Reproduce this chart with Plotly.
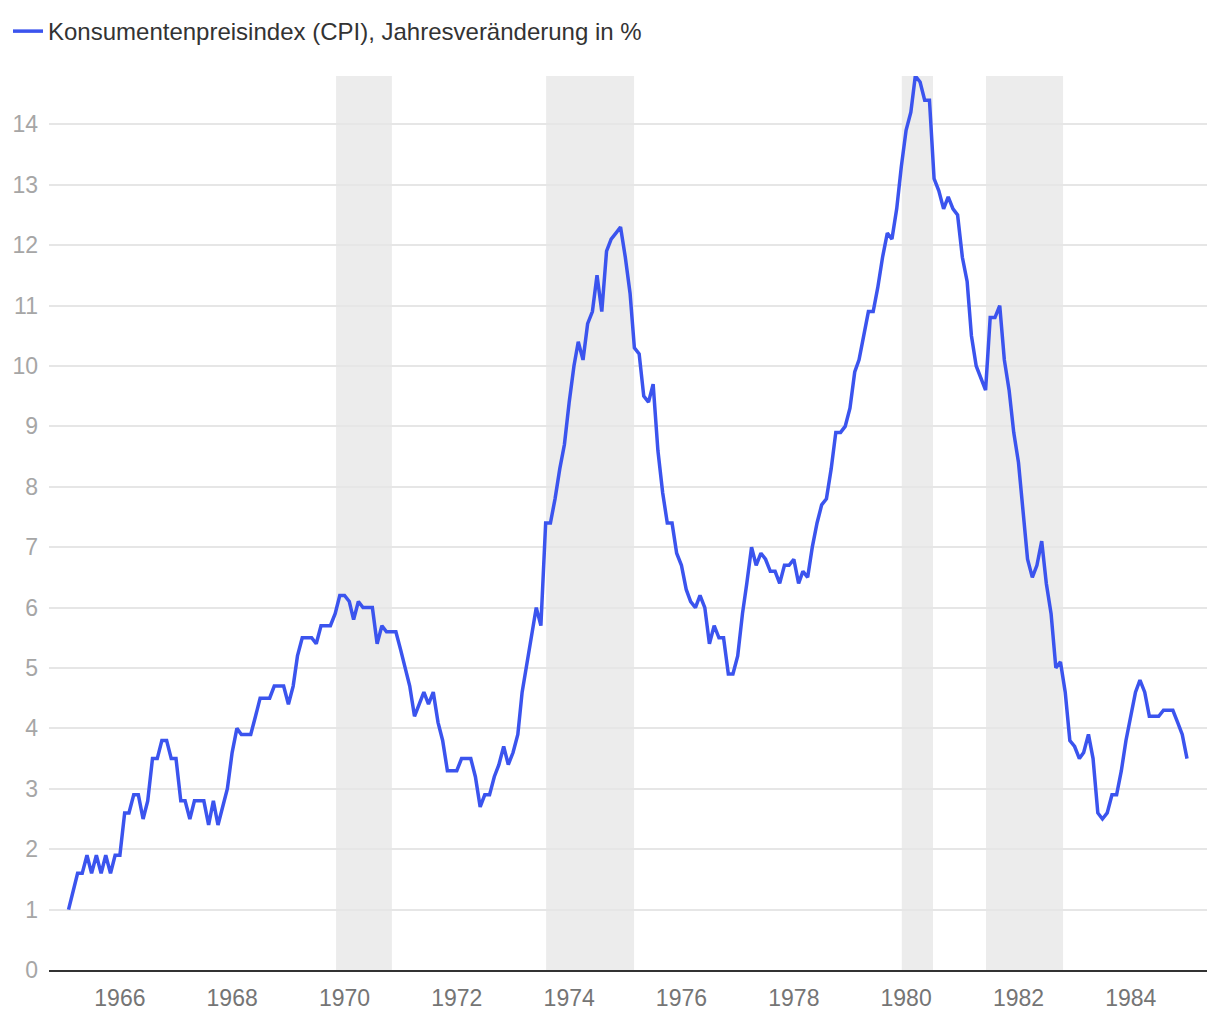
import pandas as pd
import plotly.graph_objects as go

# Monthly CPI year-over-year change in %, Feb 1965 .. Jan 1985
start_month = "1965-02-01"
cpi_yoy = [
    # 1965 (Feb-Dec)
    1.0, 1.3, 1.6, 1.6, 1.9, 1.6, 1.9, 1.6, 1.9, 1.6, 1.9,
    # 1966
    1.9, 2.6, 2.6, 2.9, 2.9, 2.5, 2.8, 3.5, 3.5, 3.8, 3.8, 3.5,
    # 1967
    3.5, 2.8, 2.8, 2.5, 2.8, 2.8, 2.8, 2.4, 2.8, 2.4, 2.7, 3.0,
    # 1968
    3.6, 4.0, 3.9, 3.9, 3.9, 4.2, 4.5, 4.5, 4.5, 4.7, 4.7, 4.7,
    # 1969
    4.4, 4.7, 5.2, 5.5, 5.5, 5.5, 5.4, 5.7, 5.7, 5.7, 5.9, 6.2,
    # 1970
    6.2, 6.1, 5.8, 6.1, 6.0, 6.0, 6.0, 5.4, 5.7, 5.6, 5.6, 5.6,
    # 1971
    5.3, 5.0, 4.7, 4.2, 4.4, 4.6, 4.4, 4.6, 4.1, 3.8, 3.3, 3.3,
    # 1972
    3.3, 3.5, 3.5, 3.5, 3.2, 2.7, 2.9, 2.9, 3.2, 3.4, 3.7, 3.4,
    # 1973
    3.6, 3.9, 4.6, 5.1, 5.5, 6.0, 5.7, 7.4, 7.4, 7.8, 8.3, 8.7,
    # 1974
    9.4, 10.0, 10.4, 10.1, 10.7, 10.9, 11.5, 10.9, 11.9, 12.1, 12.2, 12.3,
    # 1975
    11.8, 11.2, 10.3, 10.2, 9.5, 9.4, 9.7, 8.6, 7.9, 7.4, 7.4, 6.9,
    # 1976
    6.7, 6.3, 6.1, 6.0, 6.2, 6.0, 5.4, 5.7, 5.5, 5.5, 4.9, 4.9,
    # 1977
    5.2, 5.9, 6.4, 7.0, 6.7, 6.9, 6.8, 6.6, 6.6, 6.4, 6.7, 6.7,
    # 1978
    6.8, 6.4, 6.6, 6.5, 7.0, 7.4, 7.7, 7.8, 8.3, 8.9, 8.9, 9.0,
    # 1979
    9.3, 9.9, 10.1, 10.5, 10.9, 10.9, 11.3, 11.8, 12.2, 12.1, 12.6, 13.3,
    # 1980
    13.9, 14.2, 14.8, 14.7, 14.4, 14.4, 13.1, 12.9, 12.6, 12.8, 12.6, 12.5,
    # 1981
    11.8, 11.4, 10.5, 10.0, 9.8, 9.6, 10.8, 10.8, 11.0, 10.1, 9.6, 8.9,
    # 1982
    8.4, 7.6, 6.8, 6.5, 6.7, 7.1, 6.4, 5.9, 5.0, 5.1, 4.6, 3.8,
    # 1983
    3.7, 3.5, 3.6, 3.9, 3.5, 2.6, 2.5, 2.6, 2.9, 2.9, 3.3, 3.8,
    # 1984
    4.2, 4.6, 4.8, 4.6, 4.2, 4.2, 4.2, 4.3, 4.3, 4.3, 4.1, 3.9,
    # 1985
    3.5,
]

recession_starts = ["1969-11-07", "1973-08-04", "1979-12-04", "1981-06-04"]
recession_ends = ["1970-11-05", "1975-02-27", "1980-06-24", "1982-10-18"]

x_tick_years = [1966, 1968, 1970, 1972, 1974, 1976, 1978, 1980, 1982, 1984]
y_ticks = list(range(0, 15))

series_name = "Konsumentenpreisindex (CPI), Jahresveränderung in %"

dates = pd.date_range(start_month, periods=len(cpi_yoy), freq="MS")

fig = go.Figure()
fig.add_trace(go.Scatter(
    x=dates, y=cpi_yoy, mode="lines", name=series_name,
    line=dict(color="#3B54EE", width=3.5),
    showlegend=True,
))

for s, e in zip(recession_starts, recession_ends):
    fig.add_shape(type="rect", xref="x", yref="paper", x0=s, x1=e, y0=0, y1=1,
                  fillcolor="#ECECEC", line=dict(width=0), layer="below")

font_family = "Liberation Sans, Arial, sans-serif"

fig.update_layout(
    width=1220, height=1020,
    margin=dict(l=41, r=21, t=68, b=58, autoexpand=False),
    paper_bgcolor="white", plot_bgcolor="white",
    font=dict(family=font_family, size=24, color="#333333"),
    showlegend=True,
    legend=dict(
        xref="container", yref="container", x=0.0, y=0.999,
        xanchor="left", yanchor="top",
        font=dict(size=24, color="#333333"),
        bgcolor="rgba(0,0,0,0)", borderwidth=0,
    ),
    xaxis=dict(
        type="date",
        range=["1964-09-27", "1985-05-11"],
        tickvals=[f"{y}-01-01" for y in x_tick_years],
        ticktext=[str(y) for y in x_tick_years],
        showgrid=False, zeroline=False,
        showline=True, linecolor="#333333", linewidth=2,
        ticks="", tickfont=dict(size=23, color="#757575"),
        ticklabelstandoff=6,
    ),
    yaxis=dict(
        range=[0, 14.8],
        tickvals=y_ticks,
        showgrid=True, gridcolor="#E6E6E6", gridwidth=1.5,
        zeroline=False, showline=False,
        ticks="", tickfont=dict(size=23, color="#A6A6A6"),
        ticklabelstandoff=10,
    ),
)

fig.write_html("out.html")
